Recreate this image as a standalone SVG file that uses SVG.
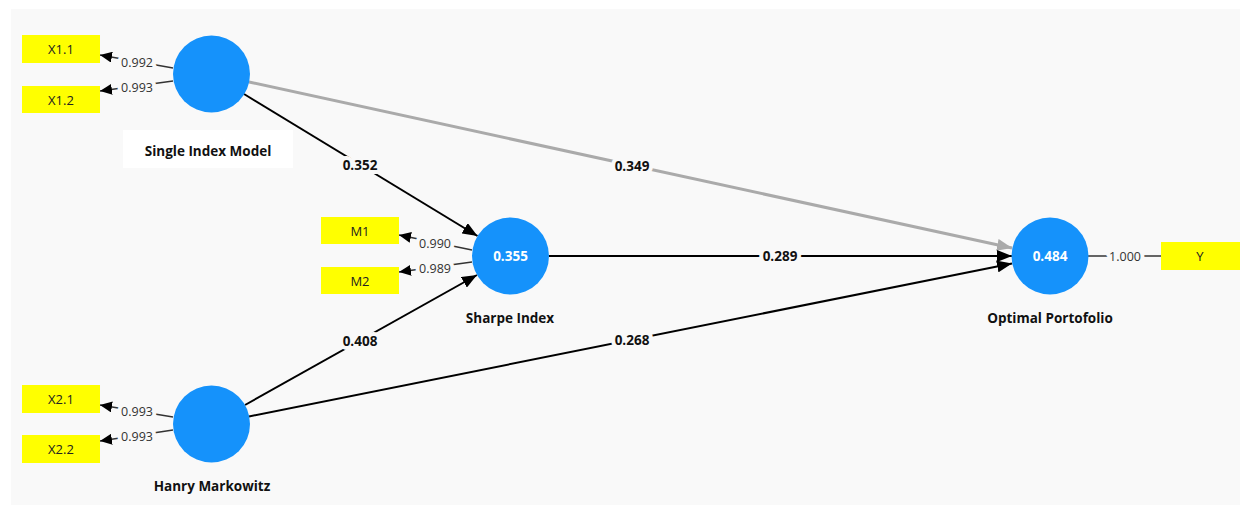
<svg xmlns="http://www.w3.org/2000/svg" width="1240" height="505" viewBox="0 0 1240 505">
<defs>
<style>
.bg{fill:#f9f9f9}
.lv{fill:#1592fb}
.ind{fill:#ffff00}
.itxt{font-family:"Open Sans","Noto Sans",sans-serif;font-size:13px;fill:#222;text-anchor:middle;dominant-baseline:central}
.ntxt{font-family:"Open Sans","Noto Sans",sans-serif;font-size:13.5px;font-weight:bold;fill:#111;text-anchor:middle;dominant-baseline:central}
.r2{font-family:"Open Sans","Noto Sans",sans-serif;font-size:13.5px;font-weight:bold;fill:#fff;text-anchor:middle;dominant-baseline:central}
.path{stroke:#000;stroke-width:2;fill:none}
.pathg{stroke:#aaaaaa;stroke-width:3;fill:none}
.outer{stroke:#333;stroke-width:1.3;fill:none}
.plab{font-family:"Open Sans","Noto Sans",sans-serif;font-size:13.5px;font-weight:bold;fill:#111;text-anchor:middle;dominant-baseline:central;stroke:#f9f9f9;stroke-width:8;stroke-linejoin:round;paint-order:stroke}
.olab{font-family:"Open Sans","Noto Sans",sans-serif;font-size:12.5px;fill:#333;text-anchor:middle;dominant-baseline:central;stroke:#f9f9f9;stroke-width:8;stroke-linejoin:round;paint-order:stroke}
</style>
<marker id="ab" markerUnits="userSpaceOnUse" markerWidth="16" markerHeight="12" refX="15" refY="6" orient="auto"><path d="M0,0 L15,6 L0,12 Z" fill="#000"/></marker>
<marker id="ag" markerUnits="userSpaceOnUse" markerWidth="16" markerHeight="12" refX="15" refY="6" orient="auto"><path d="M0,0 L15,6 L0,12 Z" fill="#aaaaaa"/></marker>
<marker id="ao" markerUnits="userSpaceOnUse" markerWidth="13" markerHeight="11" refX="12" refY="5.5" orient="auto"><path d="M0,0 L12,5.5 L0,11 Z" fill="#000"/></marker>
</defs>
<rect x="0" y="0" width="1240" height="505" fill="#ffffff"/>
<rect class="bg" x="11" y="9" width="1229" height="496"/>
<g id="connectors">
<line class="pathg" x1="249" y1="82" x2="1012" y2="248" marker-end="url(#ag)"/>
<line class="path" x1="244" y1="94" x2="477.5" y2="236" marker-end="url(#ab)"/>
<line class="path" x1="245" y1="405" x2="477" y2="275" marker-end="url(#ab)"/>
<line class="path" x1="249" y1="416.5" x2="1012" y2="263.5" marker-end="url(#ab)"/>
<line class="path" x1="549" y1="256" x2="1012" y2="256" marker-end="url(#ab)"/>
<line class="outer" x1="173" y1="68" x2="100" y2="55" marker-end="url(#ao)"/>
<line class="outer" x1="173" y1="81" x2="100" y2="91" marker-end="url(#ao)"/>
<line class="outer" x1="472" y1="250" x2="399" y2="235" marker-end="url(#ao)"/>
<line class="outer" x1="472" y1="262" x2="399" y2="272" marker-end="url(#ao)"/>
<line class="outer" x1="173" y1="417" x2="100" y2="405" marker-end="url(#ao)"/>
<line class="outer" x1="173" y1="430" x2="100" y2="441" marker-end="url(#ao)"/>
<line class="outer" x1="1088" y1="256" x2="1161" y2="256"/>
<text class="plab" x="632" y="166">0.349</text>
<text class="plab" x="360" y="165">0.352</text>
<text class="plab" x="360" y="341">0.408</text>
<text class="plab" x="632" y="340">0.268</text>
<text class="plab" x="780" y="256">0.289</text>
<text class="olab" x="137" y="62">0.992</text>
<text class="olab" x="137" y="87">0.993</text>
<text class="olab" x="435" y="243">0.990</text>
<text class="olab" x="435" y="268">0.989</text>
<text class="olab" x="137" y="411">0.993</text>
<text class="olab" x="137" y="436">0.993</text>
<text class="olab" x="1125" y="256">1.000</text>
</g>
<g id="sim">
<rect x="123" y="130" width="170" height="38" fill="#ffffff"/>
<circle class="lv" cx="211.5" cy="74" r="38.5"/>
<text class="ntxt" x="208" y="151">Single Index Model</text>
</g>
<g id="hm">
<circle class="lv" cx="211.5" cy="424" r="38.5"/>
<text class="ntxt" x="212" y="486">Hanry Markowitz</text>
</g>
<g id="sharpe">
<circle class="lv" cx="510.5" cy="256" r="38.5"/>
<text class="r2" x="510.5" y="256">0.355</text>
<text class="ntxt" x="510" y="318">Sharpe Index</text>
</g>
<g id="optimal">
<circle class="lv" cx="1050" cy="256" r="38.5"/>
<text class="r2" x="1050" y="256">0.484</text>
<text class="ntxt" x="1050" y="318">Optimal Portofolio</text>
</g>
<g id="x11"><rect class="ind" x="22" y="35" width="78" height="28"/><text class="itxt" x="61" y="49">X1.1</text></g>
<g id="x12"><rect class="ind" x="22" y="86" width="78" height="27"/><text class="itxt" x="61" y="99.5">X1.2</text></g>
<g id="m1"><rect class="ind" x="321" y="217" width="78" height="27"/><text class="itxt" x="360" y="230.5">M1</text></g>
<g id="m2"><rect class="ind" x="321" y="267" width="78" height="27"/><text class="itxt" x="360" y="280.5">M2</text></g>
<g id="x21"><rect class="ind" x="22" y="385" width="78" height="28"/><text class="itxt" x="61" y="399">X2.1</text></g>
<g id="x22"><rect class="ind" x="22" y="435" width="78" height="28"/><text class="itxt" x="61" y="449">X2.2</text></g>
<g id="y"><rect class="ind" x="1161" y="242" width="79" height="28"/><text class="itxt" x="1200" y="256">Y</text></g>
</svg>
